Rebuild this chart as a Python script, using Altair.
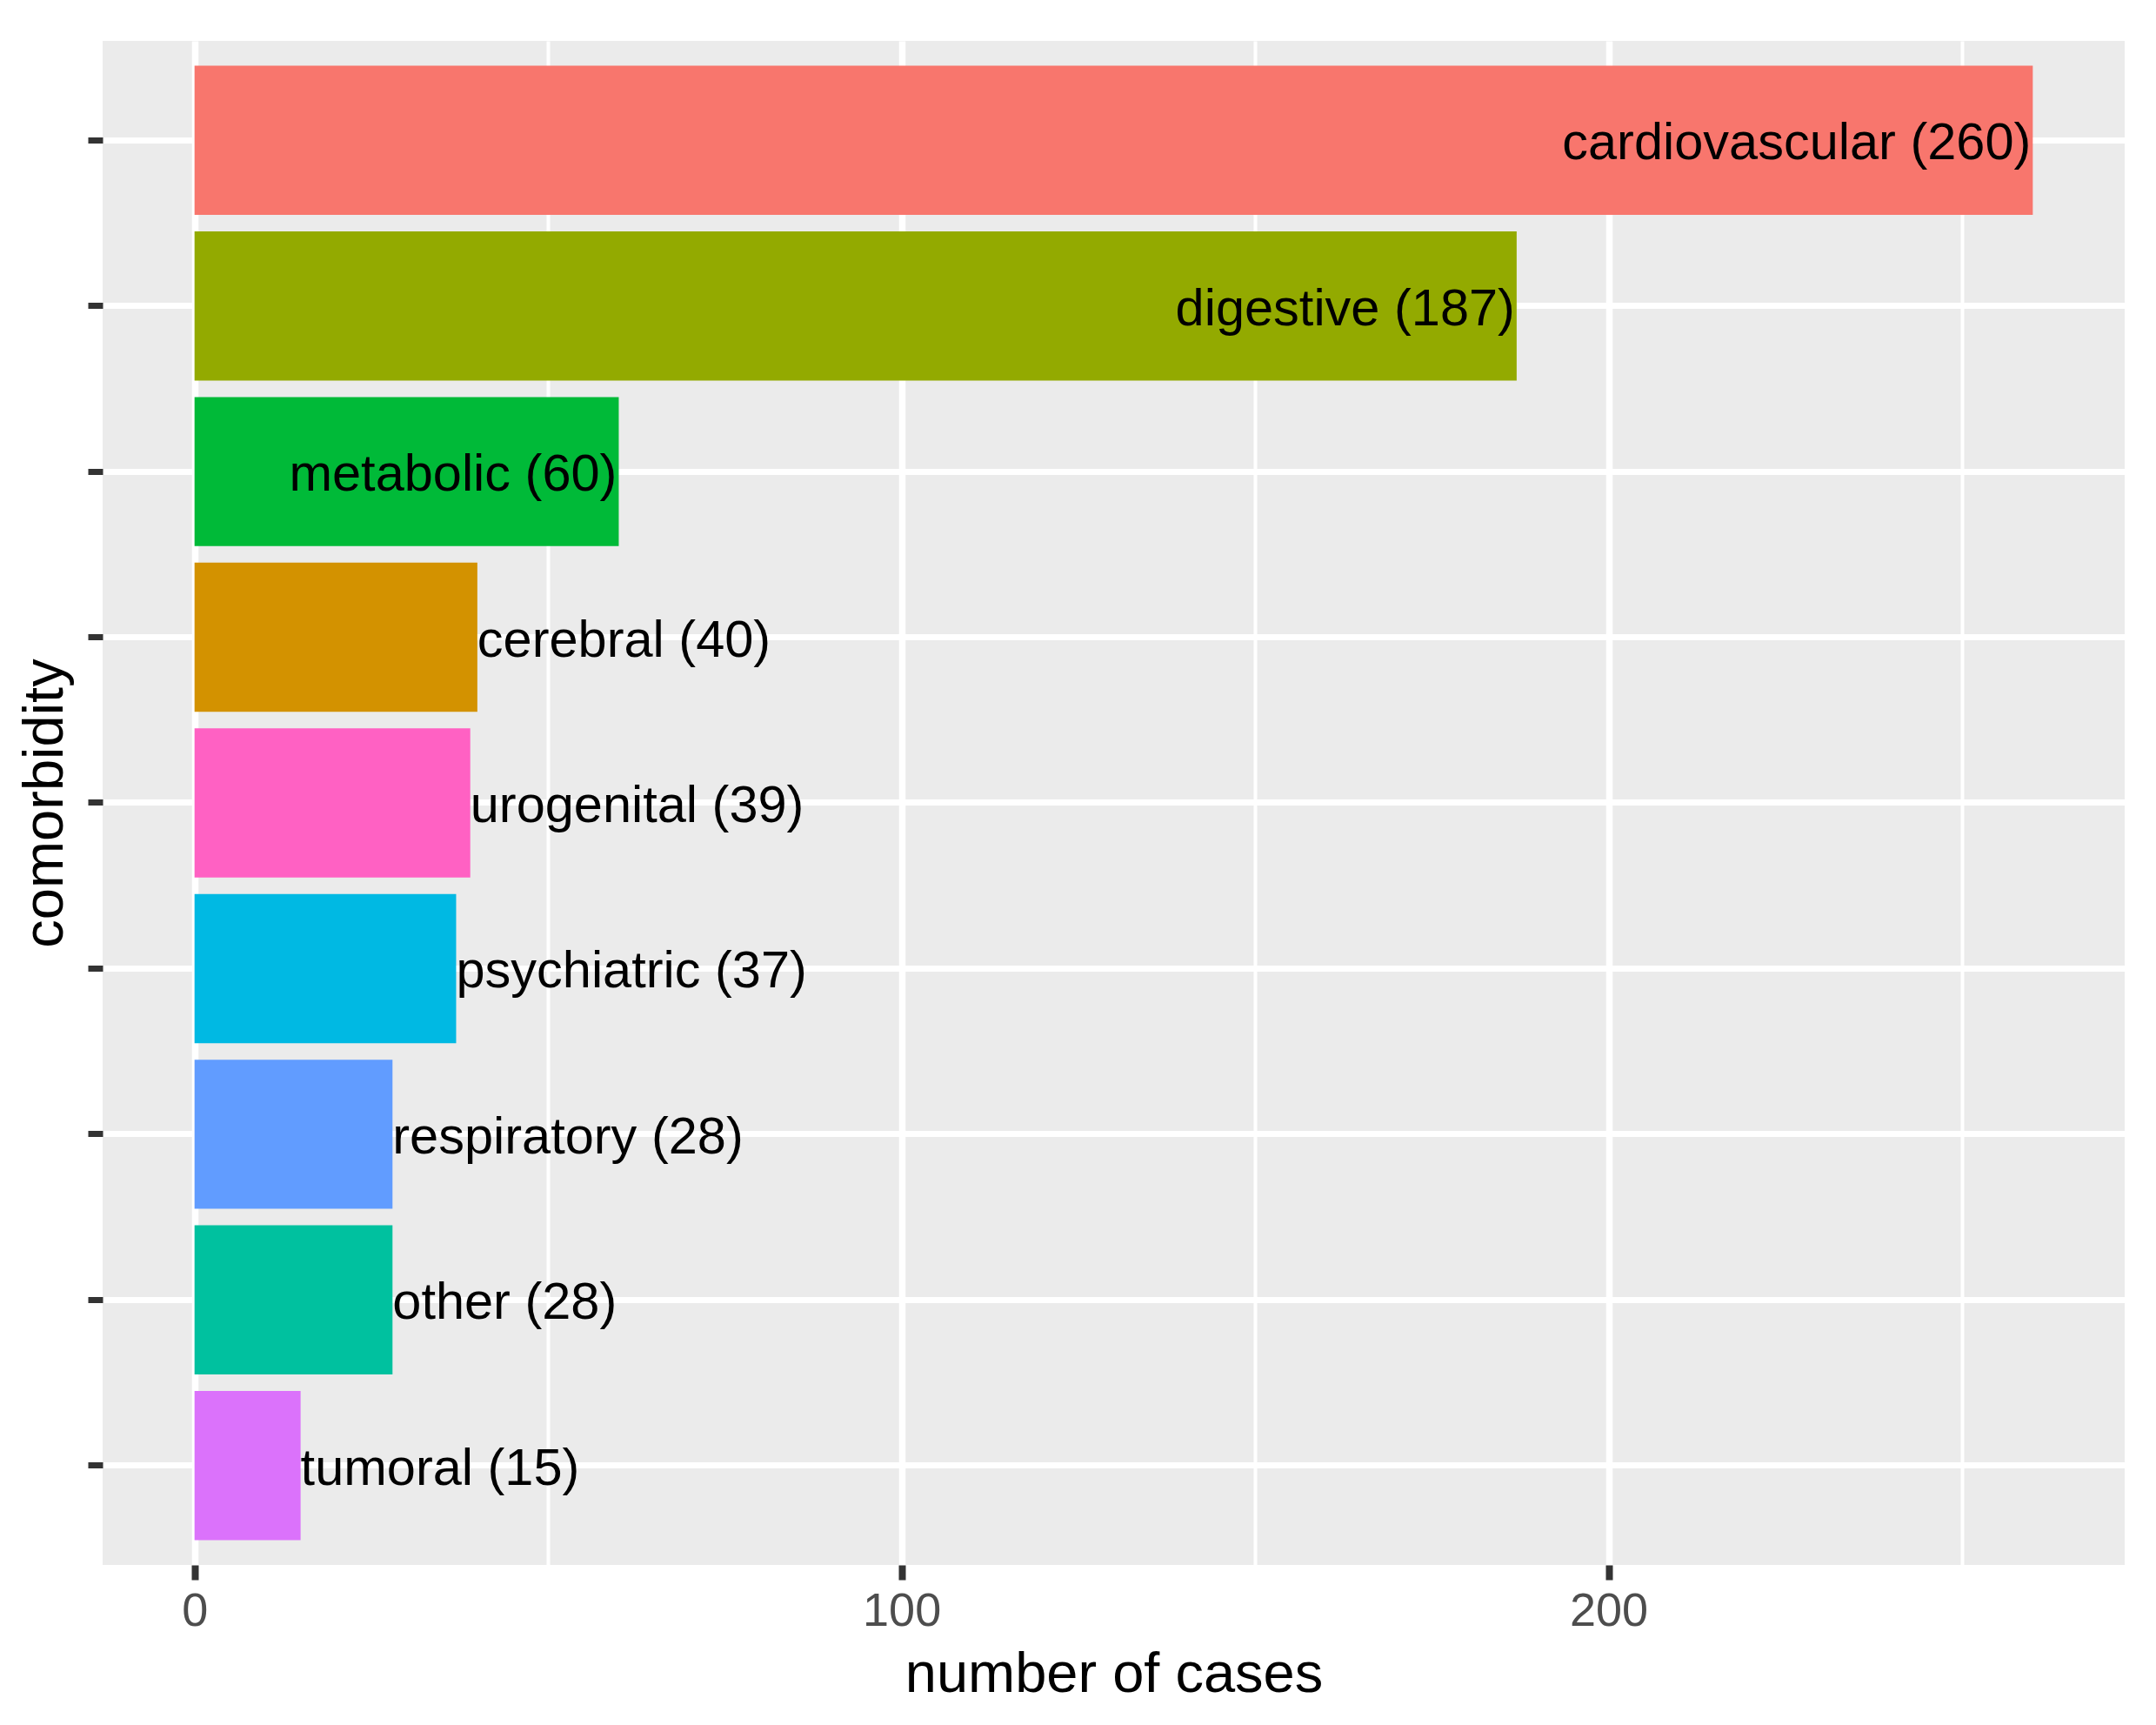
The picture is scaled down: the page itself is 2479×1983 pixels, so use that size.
import altair as alt
import pandas as pd

categories = ["cardiovascular", "digestive", "metabolic", "cerebral", "urogenital",
              "psychiatric", "respiratory", "other", "tumoral"]
counts = [260, 187, 60, 40, 39, 37, 28, 28, 15]
label_side = ["right", "right", "right", "left", "left", "left", "left", "left", "left"]

color_domain = ["cardiovascular", "cerebral", "digestive", "metabolic", "other",
                "psychiatric", "respiratory", "tumoral", "urogenital"]
color_range = ["#F8766D", "#D39200", "#93AA00", "#00BA38", "#00C19F",
               "#00B9E3", "#619CFF", "#DB72FB", "#FF61C3"]

x_ticks = [0, 50, 100, 150, 200, 250]

df = pd.DataFrame({
    "comorbidity": categories,
    "count": counts,
    "side": label_side,
})
df["label"] = [f"{c} ({n})" for c, n in zip(categories, counts)]

FONT = "Liberation Sans"

x_enc = alt.X(
    "count:Q",
    scale=alt.Scale(domain=[-13, 273], nice=False, zero=False),
    axis=alt.Axis(
        title="number of cases",
        values=x_ticks,
        labelExpr="datum.value % 100 === 0 ? datum.label : ''",
        labelFlush=False,
        labelOverlap=False,
        labelFontSize=54,
        labelColor="#4D4D4D",
        labelFont=FONT,
        labelPadding=9,
        tickSize=17,
        tickColor="#333333",
        tickWidth=8,
        tickOpacity={"condition": {"test": "datum.value % 100 === 0", "value": 1}, "value": 0},
        grid=True,
        gridColor="#FFFFFF",
        gridWidth={"condition": {"test": "datum.value % 100 === 0", "value": 7.5}, "value": 4},
        domain=False,
        titleFontSize=65,
        titleFont=FONT,
        titleFontWeight="normal",
        titleColor="#000000",
        titleBaseline="alphabetic",
        titleY=145,
    ),
)

y_enc = alt.Y(
    "comorbidity:N",
    sort=categories,
    scale=alt.Scale(paddingInner=0.1, paddingOuter=0.15),
    axis=alt.Axis(
        title="comorbidity",
        labels=False,
        tickSize=17,
        tickColor="#333333",
        tickWidth=7,
        bandPosition=0.5,
        grid=True,
        gridColor="#FFFFFF",
        gridWidth=7,
        domain=False,
        titleFontSize=65,
        titleFont=FONT,
        titleFontWeight="normal",
        titleColor="#000000",
        titleBaseline="alphabetic",
        titleX=-47,
    ),
)

bars = alt.Chart(df).mark_bar().encode(
    x=x_enc,
    x2=alt.datum(0),
    y=y_enc,
    color=alt.Color("comorbidity:N",
                    scale=alt.Scale(domain=color_domain, range=color_range),
                    legend=None),
)

text_right = alt.Chart(df).transform_filter("datum.side === 'right'").mark_text(
    align="right", baseline="alphabetic", dy=22, dx=-2, fontSize=59.5, font=FONT, color="#000000"
).encode(
    x=alt.X("count:Q"),
    y=alt.Y("comorbidity:N", sort=categories),
    text="label:N",
)

text_left = alt.Chart(df).transform_filter("datum.side === 'left'").mark_text(
    align="left", baseline="alphabetic", dy=22, fontSize=59.5, font=FONT, color="#000000"
).encode(
    x=alt.X("count:Q"),
    y=alt.Y("comorbidity:N", sort=categories),
    text="label:N",
)

chart = alt.layer(bars, text_right, text_left).properties(
    width=2325,
    height=1752,
    autosize=alt.AutoSizeParams(type="none"),
    padding={"left": 110, "top": 39, "right": 20, "bottom": 170},
    background="#FFFFFF",
).configure_view(
    fill="#EBEBEB",
    stroke=None,
)

chart.save("out.html", embed_options={"renderer": "svg", "actions": False})
